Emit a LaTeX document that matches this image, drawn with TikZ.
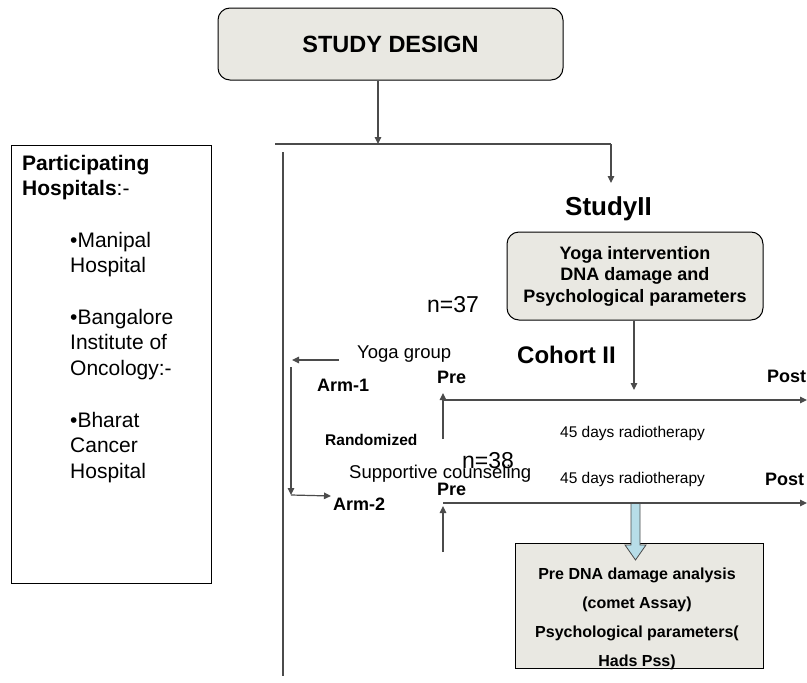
\documentclass[tikz,border=0pt]{standalone}
\usepackage{fontspec}
\setmainfont{Liberation Sans}
\usepackage{xcolor}
\usetikzlibrary{arrows.meta,positioning,calc}

\definecolor{boxgray}{RGB}{233,232,226}
\definecolor{linegray}{RGB}{75,75,75}
\definecolor{arrowblue}{RGB}{183,221,232}

\begin{document}
\begin{tikzpicture}[
    x=1pt, y=-1pt,
    roundbox/.style={rectangle, draw, rounded corners=12pt, fill=boxgray, align=center, line width=1pt},
    plainbox/.style={rectangle, draw, fill=boxgray, line width=1pt},
    arrow/.style={-{Triangle[length=7pt,width=6.5pt]}, draw=linegray, line width=1.2pt},
    line/.style={draw=linegray, line width=1.2pt},
    txt/.style={anchor=base west, inner sep=0pt},
    bold18/.style={txt, font=\fontsize{18}{21.5}\selectfont\bfseries},
    plain18/.style={txt, font=\fontsize{18.5}{22}\selectfont},
    small/.style={txt, font=\fontsize{15.5}{18}\selectfont}
]
\useasboundingbox (0,0) rectangle (807,683);

% top of the design
\node[roundbox, minimum width=345, minimum height=72, font=\fontsize{23.5}{28}\selectfont\bfseries] (design) at (390.5,44) {STUDY DESIGN};
\coordinate (branchL) at (275,144);
\coordinate (branchM) at (378,144);
\coordinate (branchR) at (611,144);
\coordinate (studytip) at (611,183);
\draw[arrow] (design.south -| branchM) -- (branchM);
\draw[line] (branchL) -- (branchR);
\draw[arrow] (branchR) -- (studytip);

% hospitals (node base = last line)
\node[rectangle, draw, line width=1pt, minimum width=200, minimum height=438, anchor=north west] (hospbox) at (11,145) {};
\node[txt, align=left, font=\fontsize{21}{25.7}\selectfont] (hosptext) at (22,478.4) {\textbf{Participating}\\\textbf{Hospitals}:-\\[25.7pt]
    \hspace*{48pt}•Manipal\\\hspace*{48pt}Hospital\\[25.7pt]
    \hspace*{48pt}•Bangalore\\\hspace*{48pt}Institute of\\\hspace*{48pt}Oncology:-\\[25.7pt]
    \hspace*{48pt}•Bharat\\\hspace*{48pt}Cancer\\\hspace*{48pt}Hospital};

% long divider
\coordinate (divtop) at (283,152);
\coordinate (divbot) at (283,676);
\draw[line] (divtop) -- (divbot);

% study II
\node[txt, font=\fontsize{26}{30}\selectfont\bfseries] (study) at (565,215) {StudyII};
\node[roundbox, minimum width=256, minimum height=88, font=\fontsize{18}{21.5}\selectfont\bfseries] (yoga) at (635,276) {Yoga intervention\\DNA damage and\\Psychological parameters};
\node[txt, font=\fontsize{23}{26}\selectfont] (n37) at (427,312) {n=37};
\node[txt, font=\fontsize{24}{28}\selectfont\bfseries] (cohort) at (517,363) {Cohort II};
\coordinate (cohorttip) at (634,390);
\draw[arrow] (yoga.south -| cohorttip) -- (cohorttip);

% arms
\node[plain18] (yogagrp) at (357,358) {Yoga group};
\coordinate (yogaend) at (339,360);
\coordinate (arm1tip) at (292,360);
\draw[arrow] (yogaend) -- (arm1tip);
\node[bold18] (arm1) at (317,391) {Arm-1};
\node[txt, font=\fontsize{15.5}{18}\selectfont\bfseries] (rand) at (325,445) {Randomized};
\coordinate (randtop) at (291,367);
\coordinate (randbot) at (291,495);
\coordinate (arm2tip) at (331,496);
\draw[arrow] (randtop) -- (randbot);
\draw[arrow] (randbot) -- (arm2tip);
\node[plain18] (support) at (349,478) {Supportive counseling};
\node[txt, font=\fontsize{23}{26}\selectfont] (n38) at (462,468) {n=38};
\node[bold18] (arm2) at (333,510) {Arm-2};

% time lines
\node[bold18] (preA) at (437,383) {Pre};
\node[bold18] (postA) at (767,382) {Post};
\coordinate (axisA0) at (443,400);
\coordinate (axisA1) at (807,400);
\coordinate (upA0) at (443,439);
\coordinate (upA1) at (443,393);
\draw[arrow] (axisA0) -- (axisA1);
\draw[arrow] (upA0) -- (upA1);
\node[small] (radA) at (560,437) {45 days radiotherapy};
\node[small] (radB) at (560,483) {45 days radiotherapy};
\node[bold18] (preB) at (437,495) {Pre};
\node[bold18] (postB) at (765,485) {Post};
\coordinate (axisB0) at (443,503);
\coordinate (axisB1) at (807,503);
\coordinate (upB0) at (443,552);
\coordinate (upB1) at (443,506);
\draw[arrow] (axisB0) -- (axisB1);
\draw[arrow] (upB0) -- (upB1);

% analysis (node base = last line)
\node[plainbox, minimum width=248, minimum height=125] (analysis) at (639,605.5) {};
\node[anchor=base, inner sep=0pt, align=center, font=\fontsize{16}{28.7}\selectfont\bfseries] (analysistext) at (637,666) {Pre DNA damage analysis\\(comet Assay)\\Psychological parameters(\\Hads Pss)};
\draw[draw=linegray, fill=arrowblue, line width=0.8pt] (631,503.5) -- (640,503.5) -- (640,545) -- (646,545) -- (635.5,560) -- (625,545) -- (631,545) -- cycle;
\end{tikzpicture}
\end{document}
